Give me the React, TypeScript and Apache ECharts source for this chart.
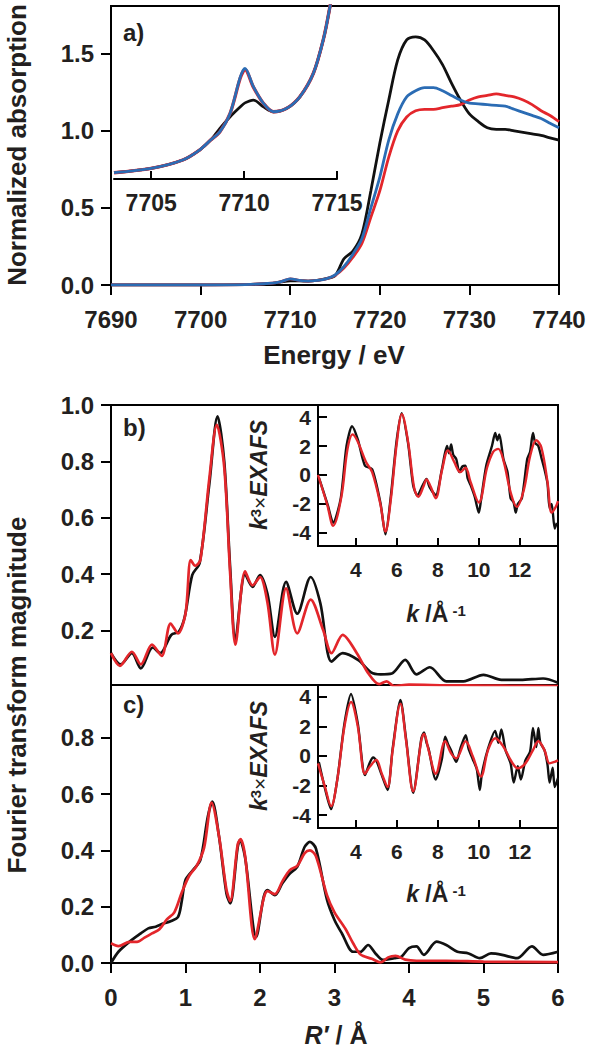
import React, { useEffect, useRef } from "react";
import * as echarts from "echarts";

// ---------- Panel a: XANES ----------
const aEnergy = [7690, 7700, 7705, 7708, 7709, 7710, 7711, 7712, 7713, 7714, 7715, 7716, 7717, 7718, 7719, 7720, 7721, 7722, 7723, 7724, 7725, 7726, 7727, 7728, 7729, 7730, 7731, 7732, 7733, 7734, 7735, 7736, 7737, 7738, 7739, 7740];
const aBlack = [0, 0, 0.003, 0.01, 0.02, 0.027, 0.027, 0.025, 0.03, 0.042, 0.06, 0.17, 0.22, 0.33, 0.61, 0.92, 1.2, 1.46, 1.59, 1.61, 1.59, 1.52, 1.43, 1.31, 1.2, 1.11, 1.06, 1.02, 1.01, 1.01, 1.0, 0.99, 0.98, 0.97, 0.955, 0.94];
const aRed = [0, 0, 0.003, 0.012, 0.022, 0.04, 0.03, 0.025, 0.03, 0.04, 0.062, 0.11, 0.18, 0.27, 0.44, 0.61, 0.83, 1.0, 1.09, 1.13, 1.14, 1.14, 1.15, 1.16, 1.17, 1.2, 1.22, 1.23, 1.24, 1.23, 1.22, 1.2, 1.17, 1.13, 1.1, 1.06];
const aBlue = [0, 0, 0.003, 0.012, 0.022, 0.04, 0.03, 0.025, 0.03, 0.04, 0.065, 0.12, 0.2, 0.3, 0.5, 0.7, 0.94, 1.11, 1.22, 1.26, 1.28, 1.28, 1.26, 1.23, 1.2, 1.18, 1.175, 1.17, 1.165, 1.16, 1.14, 1.12, 1.1, 1.08, 1.05, 1.02];
const aXTicks = [7690, 7700, 7710, 7720, 7730, 7740];
const aYTicks = [0, 0.5, 1.0, 1.5];

// inset of panel a (pre-edge)
const insEnergy = [7703, 7705, 7706.7, 7707.6, 7708.2, 7708.7, 7709.25, 7709.8, 7710.05, 7710.5, 7711.04, 7711.58, 7712.3, 7713.0, 7713.73, 7714.26, 7714.62, 7714.9];
const insBlack = [0.0029, 0.0049, 0.0088, 0.0134, 0.018, 0.0234, 0.0288, 0.0334, 0.0352, 0.0365, 0.0334, 0.0311, 0.0327, 0.038, 0.0489, 0.0643, 0.0797, 0.095];
const insRed = [0.0029, 0.0049, 0.0088, 0.0134, 0.018, 0.0219, 0.0304, 0.0468, 0.0506, 0.0425, 0.035, 0.0311, 0.0327, 0.038, 0.0489, 0.0643, 0.0797, 0.095];
const insBlue = [0.0029, 0.0049, 0.0088, 0.0134, 0.018, 0.0219, 0.0304, 0.0473, 0.0512, 0.0427, 0.035, 0.0311, 0.0327, 0.038, 0.0489, 0.0643, 0.0797, 0.095];
const insXTicks = [7705, 7710, 7715];

// ---------- Panel b: FT ----------
const bRBlack = [0, 0.13, 0.28, 0.4, 0.56, 0.66, 0.81, 0.91, 0.99, 1.09, 1.19, 1.32, 1.43, 1.52, 1.6, 1.67, 1.8, 1.9, 2.0, 2.1, 2.2, 2.35, 2.5, 2.68, 2.81, 2.96, 3.11, 3.32, 3.49, 3.62, 3.77, 3.95, 4.1, 4.28, 4.5, 4.73, 5.0, 5.24, 5.5, 5.8, 6.0];
const bBlack = [0.12, 0.08, 0.12, 0.066, 0.14, 0.12, 0.185, 0.196, 0.249, 0.397, 0.44, 0.72, 0.96, 0.8, 0.42, 0.17, 0.4, 0.355, 0.397, 0.33, 0.178, 0.373, 0.26, 0.39, 0.297, 0.09, 0.12, 0.095, 0.052, 0.045, 0.048, 0.096, 0.045, 0.07, 0.02, 0.02, 0.043, 0.025, 0.025, 0.03, 0.015];
const bRRed = [0, 0.12, 0.28, 0.4, 0.55, 0.68, 0.8, 0.9, 1.0, 1.07, 1.13, 1.2, 1.32, 1.42, 1.52, 1.6, 1.67, 1.8, 1.9, 2.0, 2.1, 2.2, 2.35, 2.5, 2.68, 2.85, 2.96, 3.11, 3.3, 3.45, 3.6, 3.7, 3.8, 4.0, 4.5, 5.0, 5.5, 6.0];
const bRed = [0.12, 0.075, 0.125, 0.08, 0.15, 0.11, 0.225, 0.19, 0.26, 0.45, 0.43, 0.45, 0.74, 0.93, 0.78, 0.4, 0.15, 0.41, 0.36, 0.39, 0.3, 0.115, 0.35, 0.19, 0.31, 0.2, 0.12, 0.185, 0.12, 0.05, 0.01, 0.02, 0.003, 0.008, 0.006, 0.005, 0.004, 0.003];
const bYTicks = [0.2, 0.4, 0.6, 0.8, 1.0];

// inset of panel b (k-space)
const bkBlack = [2.2, 2.64, 2.9, 3.27, 3.55, 3.82, 4.1, 4.45, 4.8, 5.2, 5.45, 5.7, 6.0, 6.24, 6.55, 6.8, 7.0, 7.27, 7.45, 7.6, 7.9, 8.2, 8.45, 8.55, 8.65, 8.75, 8.9, 9.05, 9.2, 9.35, 9.45, 9.6, 9.8, 10.0, 10.1, 10.36, 10.64, 10.8, 10.9, 11.0, 11.2, 11.4, 11.55, 11.7, 11.8, 11.9, 12.1, 12.36, 12.5, 12.64, 12.75, 12.9, 13.05, 13.2, 13.35, 13.45, 13.55, 13.7, 13.8];
const bInsBlack = [-0.16, -2.1, -3.3, -1.6, 2.0, 3.36, 2.45, 0.64, 0.4, -1.9, -4.1, -1.6, 2.45, 4.27, 2.2, -0.73, -1.4, -0.7, -0.27, -0.84, -1.4, 0.4, 2.0, 1.5, 2.1, 1.4, 1.1, 0.2, 0.6, 0.64, -0.2, -0.7, -1.5, -2.6, -1.8, 0.64, 2.0, 2.9, 2.4, 2.8, 1.1, 0.2, -1.6, -1.9, -2.6, -2.0, -1.6, 1.1, 1.6, 2.9, 2.2, 2.0, 1.2, 0.4, -0.6, -2.3, -2.0, -3.7, -3.3];
const bkRed = [2.16, 2.6, 2.9, 3.3, 3.6, 3.85, 4.1, 4.5, 4.8, 5.2, 5.45, 5.7, 6.0, 6.25, 6.55, 6.85, 7.05, 7.3, 7.45, 7.65, 7.9, 8.2, 8.5, 8.8, 9.1, 9.35, 9.6, 10.0, 10.4, 10.7, 10.95, 11.2, 11.55, 11.85, 12.2, 12.5, 12.8, 13.05, 13.35, 13.55, 13.75, 13.86];
const bInsRed = [0, -2.0, -3.5, -1.5, 1.8, 2.8, 2.3, 0.9, 0.2, -2.0, -3.9, -1.8, 2.2, 4.2, 2.3, -0.9, -1.5, -0.8, -0.3, -0.8, -1.6, 0.3, 1.7, 0.9, 0.2, 0.5, -0.5, -1.9, 0.5, 1.6, 1.8, 1.0, -1.2, -2.2, -1.0, 1.3, 2.4, 1.9, -0.5, -2.6, -2.2, -1.8];

// ---------- Panel c: FT ----------
const cRBlack = [0, 0.1, 0.25, 0.4, 0.5, 0.6, 0.7, 0.8, 0.9, 0.95, 1.0, 1.1, 1.2, 1.3, 1.36, 1.45, 1.55, 1.6, 1.7, 1.73, 1.8, 1.95, 2.05, 2.1, 2.2, 2.3, 2.4, 2.5, 2.6, 2.67, 2.75, 2.9, 3.0, 3.1, 3.25, 3.35, 3.45, 3.55, 3.65, 3.8, 3.9, 4.0, 4.1, 4.2, 4.37, 4.5, 4.65, 4.8, 4.95, 5.1, 5.25, 5.45, 5.65, 5.8, 6.0];
const cBlack = [0.0, 0.04, 0.076, 0.105, 0.123, 0.129, 0.14, 0.148, 0.164, 0.22, 0.295, 0.33, 0.366, 0.52, 0.573, 0.449, 0.247, 0.212, 0.41, 0.437, 0.375, 0.093, 0.235, 0.259, 0.241, 0.283, 0.318, 0.342, 0.413, 0.43, 0.407, 0.224, 0.153, 0.105, 0.04, 0.04, 0.064, 0.034, 0.011, 0.017, 0.023, 0.053, 0.059, 0.029, 0.076, 0.064, 0.04, 0.034, 0.017, 0.034, 0.029, 0.017, 0.059, 0.029, 0.04];
const cRRed = [0, 0.1, 0.25, 0.35, 0.45, 0.55, 0.65, 0.75, 0.85, 0.95, 1.05, 1.15, 1.25, 1.35, 1.45, 1.55, 1.6, 1.7, 1.74, 1.8, 1.93, 2.05, 2.1, 2.2, 2.3, 2.4, 2.5, 2.6, 2.67, 2.75, 2.9, 3.0, 3.15, 3.25, 3.35, 3.5, 3.62, 3.72, 3.82, 3.95, 4.1, 4.5, 5.0, 6.0];
const cRed = [0.07, 0.06, 0.075, 0.075, 0.09, 0.105, 0.12, 0.155, 0.18, 0.25, 0.31, 0.345, 0.41, 0.57, 0.45, 0.26, 0.22, 0.42, 0.44, 0.38, 0.085, 0.23, 0.255, 0.245, 0.29, 0.33, 0.345, 0.39, 0.4, 0.38, 0.24, 0.18, 0.12, 0.07, 0.03, 0.015, 0.002, 0.02, 0.025, 0.012, 0.008, 0.008, 0.005, 0.003];
const cYTicks = [0, 0.2, 0.4, 0.6, 0.8];
const rTicks = [0, 1, 2, 3, 4, 5, 6];

// inset of panel c (k-space)
const ckBlack = [2.2, 2.5, 2.8, 3.1, 3.45, 3.77, 4.1, 4.45, 4.7, 4.85, 5.0, 5.27, 5.55, 5.8, 6.18, 6.45, 6.8, 7.2, 7.33, 7.45, 7.55, 7.9, 8.2, 8.36, 8.5, 8.64, 8.9, 9.1, 9.36, 9.5, 9.7, 9.9, 10.05, 10.15, 10.45, 10.8, 10.95, 11.1, 11.3, 11.55, 11.7, 11.9, 12.05, 12.27, 12.5, 12.64, 12.8, 12.9, 13.0, 13.2, 13.35, 13.45, 13.6, 13.7, 13.86];
const cInsBlack = [-0.4, -2.2, -3.6, -1.6, 2.2, 4.2, 2.2, -1.3, -0.4, -0.1, -0.3, -1.3, -2.3, 0.5, 3.8, 1.2, -2.5, 1.2, 1.6, 0.9, 0.5, -1.6, -0.2, 1.3, 0.8, 0.4, -0.4, 0.5, 1.4, 0.5, -0.2, -0.9, -2.3, -1.2, 0.5, 1.7, 0.9, 1.8, 0.4, -0.5, -1.8, -0.7, -1.6, -0.3, 0.3, 1.9, 0.6, 1.9, 0.9, 0.4, -0.6, -1.8, -0.8, -2.1, -1.5];
const ckRed = [2.16, 2.5, 2.8, 3.1, 3.45, 3.77, 4.1, 4.45, 4.7, 5.0, 5.27, 5.55, 5.8, 6.18, 6.45, 6.8, 7.2, 7.33, 7.55, 7.9, 8.36, 8.64, 8.9, 9.36, 9.7, 10.1, 10.45, 10.8, 11.2, 11.55, 11.9, 12.27, 12.64, 12.9, 13.2, 13.45, 13.7, 13.86];
const cInsRed = [-0.5, -2.1, -3.4, -1.6, 2.0, 3.66, 2.0, -1.2, -0.7, -0.27, -1.2, -2.1, 0.4, 3.55, 1.08, -2.4, 1.08, 1.5, 0.4, -1.2, 1.0, 0.2, -0.15, 1.0, 0, -1.4, 0.4, 1.2, 0.63, -0.27, -0.83, -0.5, 0.4, 1.0, 0.4, -0.5, -0.4, -0.3];
const kTicks = [4, 6, 8, 10, 12];
const chiTicks = [-4, -2, 0, 2, 4];

const FONT = "'Liberation Sans', Arial, Helvetica, sans-serif";
const TXT = "#231f20";
const BLACK = "#111111";
const RED = "#e3262b";
const BLUE = "#2b6cb4";

const zip = (xs: number[], ys: number[]) => xs.map((x, i) => [x, ys[i]]).filter((p) => p[1] !== undefined);

function valueAxis(opts: any) {
  const { gridIndex, min, max, ticks, fontSize, margin, decimals, tickLen, inside, showLine } = opts;
  return {
    type: "value",
    gridIndex,
    min,
    max,
    show: opts.show !== false,
    axisLine: { show: showLine !== false, onZero: false, lineStyle: { color: "#000", width: 2 } },
    axisTick: {
      show: true,
      inside: !!inside,
      length: tickLen ?? 9,
      customValues: ticks,
      lineStyle: { color: "#000", width: 2 },
    },
    axisLabel: {
      show: true,
      customValues: ticks,
      margin,
      fontSize,
      fontWeight: "bold",
      fontFamily: FONT,
      color: TXT,
      formatter: (v: number) => (decimals ? v.toFixed(decimals) : String(Math.round(v))),
    },
    splitLine: { show: false },
  };
}

function hiddenAxis(gridIndex: number, min: number, max: number) {
  return { type: "value", gridIndex, min, max, show: false, splitLine: { show: false } };
}

function line(data: number[][], color: string, width: number, xi: number, smooth: number | boolean, z = 3) {
  return {
    type: "line",
    xAxisIndex: xi,
    yAxisIndex: xi,
    data,
    showSymbol: false,
    symbol: "none",
    smooth,
    clip: true,
    z,
    lineStyle: { color, width },
    silent: true,
  };
}

export default function App() {
  const ref = useRef<HTMLDivElement>(null);
  useEffect(() => {
    document.body.style.margin = "0";
    if (!ref.current) return;
    const chart = echarts.init(ref.current, undefined, { renderer: "svg" });

    const frame = { show: true, borderColor: "#000", borderWidth: 2, backgroundColor: "transparent", outerBoundsMode: "none" };
    const insetFrame = { show: true, borderColor: "#000", borderWidth: 2, backgroundColor: "#ffffff", outerBoundsMode: "none" };

    const option: any = {
      animation: false,
      backgroundColor: "#ffffff",
      grid: [
        { left: 111, top: 6, width: 448, height: 279, ...frame },
        { left: 114, top: 6, width: 223, height: 173, show: false, outerBoundsMode: "none" },
        { left: 111, top: 405, width: 447, height: 280, ...frame },
        { left: 318, top: 405, width: 240, height: 141, ...insetFrame },
        { left: 111, top: 685, width: 447, height: 278, ...frame },
        { left: 318, top: 685, width: 240, height: 143, ...insetFrame },
      ],
      xAxis: [
        valueAxis({ gridIndex: 0, min: 7690, max: 7740, ticks: aXTicks, fontSize: 24, margin: 22, decimals: 0, tickLen: 10 }),
        valueAxis({ gridIndex: 1, min: 7703, max: 7715, ticks: insXTicks, fontSize: 23, margin: 12, decimals: 0, tickLen: 8, inside: true }),
        hiddenAxis(2, 0, 6),
        valueAxis({ gridIndex: 3, min: 2.16, max: 13.86, ticks: kTicks, fontSize: 21, margin: 13, decimals: 0, tickLen: 8, inside: true }),
        valueAxis({ gridIndex: 4, min: 0, max: 6, ticks: rTicks, fontSize: 24, margin: 22, decimals: 0, tickLen: 10 }),
        valueAxis({ gridIndex: 5, min: 2.16, max: 13.86, ticks: kTicks, fontSize: 21, margin: 13, decimals: 0, tickLen: 8, inside: true }),
      ],
      yAxis: [
        valueAxis({ gridIndex: 0, min: 0, max: 1.81, ticks: aYTicks, fontSize: 24, margin: 17, decimals: 1, tickLen: 10 }),
        hiddenAxis(1, 0, 0.08),
        valueAxis({ gridIndex: 2, min: 0.007, max: 1.0, ticks: bYTicks, fontSize: 24, margin: 17, decimals: 1, tickLen: 10 }),
        valueAxis({ gridIndex: 3, min: -4.9, max: 4.83, ticks: chiTicks, fontSize: 21, margin: 7, decimals: 0, tickLen: 9, inside: true }),
        valueAxis({ gridIndex: 4, min: 0, max: 0.9876, ticks: cYTicks, fontSize: 24, margin: 17, decimals: 1, tickLen: 10 }),
        valueAxis({ gridIndex: 5, min: -4.88, max: 4.81, ticks: chiTicks, fontSize: 21, margin: 7, decimals: 0, tickLen: 9, inside: true }),
      ],
      series: [
        line(zip(aEnergy, aBlack), BLACK, 2.8, 0, 0.3, 3),
        line(zip(aEnergy, aRed), RED, 2.8, 0, 0.3, 4),
        line(zip(aEnergy, aBlue), BLUE, 2.8, 0, 0.3, 5),
        line(zip(insEnergy, insBlack), BLACK, 2.8, 1, 0.3, 3),
        line(zip(insEnergy, insRed), RED, 3.4, 1, 0.3, 4),
        line(zip(insEnergy, insBlue), BLUE, 2.8, 1, 0.3, 5),
        line(zip(bRBlack, bBlack), BLACK, 2.7, 2, 0.3, 3),
        line(zip(bRRed, bRed), RED, 2.7, 2, 0.3, 4),
        line(zip(bkBlack, bInsBlack), BLACK, 2.4, 3, 0.25, 3),
        line(zip(bkRed, bInsRed), RED, 2.4, 3, 0.35, 4),
        line(zip(cRBlack, cBlack), BLACK, 2.7, 4, 0.3, 3),
        line(zip(cRRed, cRed), RED, 2.7, 4, 0.3, 4),
        line(zip(ckBlack, cInsBlack), BLACK, 2.4, 5, 0.25, 3),
        line(zip(ckRed, cInsRed), RED, 2.4, 5, 0.35, 4),
      ],
      graphic: [
        { type: "text", x: 123, y: 32, style: { text: "a)", fontSize: 24, fontWeight: "bold", fontFamily: FONT, fill: TXT, verticalAlign: "middle" } },
        { type: "text", x: 123, y: 427, style: { text: "b)", fontSize: 24, fontWeight: "bold", fontFamily: FONT, fill: TXT, verticalAlign: "middle" } },
        { type: "text", x: 123, y: 704, style: { text: "c)", fontSize: 24, fontWeight: "bold", fontFamily: FONT, fill: TXT, verticalAlign: "middle" } },
        {
          type: "text", x: 17, y: 145, rotation: Math.PI / 2,
          style: { text: "Normalized absorption", fontSize: 26, fontWeight: "bold", fontFamily: FONT, fill: TXT, align: "center", verticalAlign: "middle" },
        },
        {
          type: "text", x: 334, y: 355,
          style: { text: "Energy / eV", fontSize: 26, fontWeight: "bold", fontFamily: FONT, fill: TXT, align: "center", verticalAlign: "middle" },
        },
        {
          type: "text", x: 17, y: 695, rotation: Math.PI / 2,
          style: { text: "Fourier transform magnitude", fontSize: 26, fontWeight: "bold", fontFamily: FONT, fill: TXT, align: "center", verticalAlign: "middle" },
        },
        {
          type: "text", x: 336, y: 1035,
          style: {
            text: "{i|R′}{n| / Å}", align: "center", verticalAlign: "middle",
            rich: {
              i: { fontSize: 25, fontWeight: "bold", fontStyle: "italic", fontFamily: FONT, fill: TXT, color: TXT },
              n: { fontSize: 25, fontWeight: "bold", fontFamily: FONT, fill: TXT, color: TXT },
            },
          },
        },
        ...[475, 756].map((cy) => ({
          type: "text", x: 259, y: cy, rotation: Math.PI / 2,
          style: {
            text: "{k|k}{s|3}{m|×}{k|EXAFS}", align: "center", verticalAlign: "middle",
            rich: {
              k: { fontSize: 23, fontWeight: "bold", fontStyle: "italic", fontFamily: FONT, color: TXT, fill: TXT },
              s: { fontSize: 15, fontWeight: "bold", fontFamily: FONT, color: TXT, fill: TXT, verticalAlign: "top" },
              m: { fontSize: 21, fontFamily: FONT, color: TXT, fill: TXT },
            },
          },
        })),
        ...[614, 894].map((cy) => ({
          type: "text", x: 436, y: cy,
          style: {
            text: "{k|k}{n| /Å}{s| -1}", align: "center", verticalAlign: "middle",
            rich: {
              k: { fontSize: 23, fontWeight: "bold", fontStyle: "italic", fontFamily: FONT, color: TXT, fill: TXT },
              n: { fontSize: 23, fontWeight: "bold", fontFamily: FONT, color: TXT, fill: TXT },
              s: { fontSize: 15, fontWeight: "bold", fontFamily: FONT, color: TXT, fill: TXT, verticalAlign: "top" },
            },
          },
        })),
      ],
    };
    chart.setOption(option);
    return () => chart.dispose();
  }, []);
  return <div ref={ref} style={{ width: 590, height: 1050 }} />;
}
